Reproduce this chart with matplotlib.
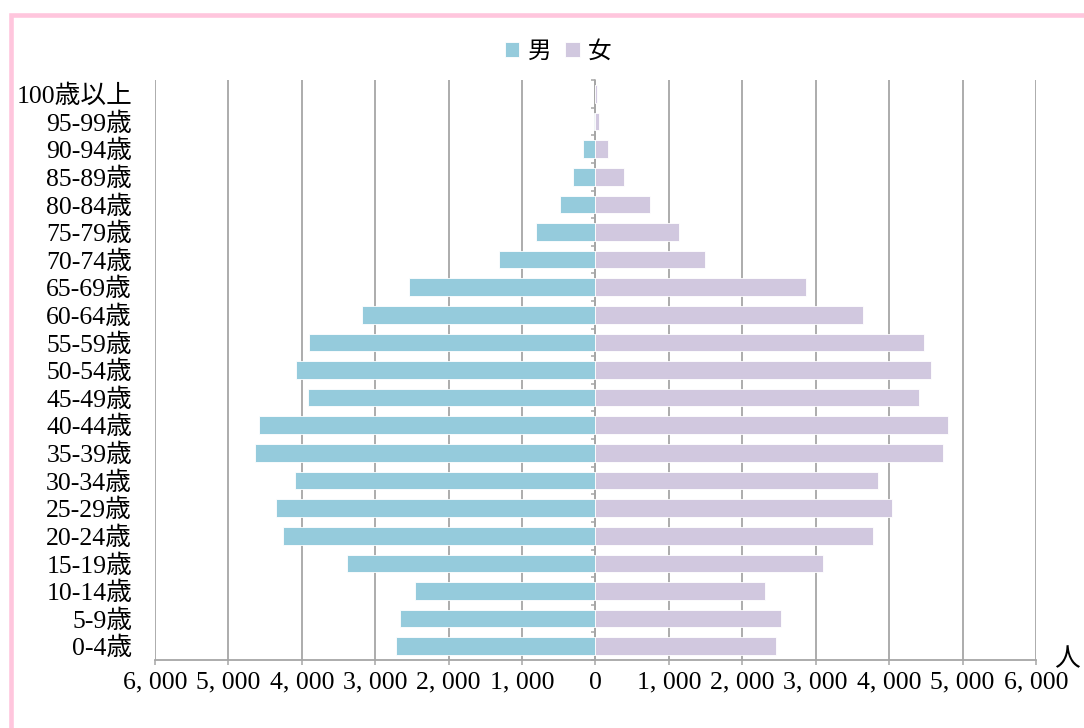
import numpy as np
import matplotlib.pyplot as plt
from matplotlib.patches import Rectangle

# 年齢階級（下から上へ）
age_groups = ['0-4歳', '5-9歳', '10-14歳', '15-19歳', '20-24歳', '25-29歳', '30-34歳',
              '35-39歳', '40-44歳', '45-49歳', '50-54歳', '55-59歳', '60-64歳', '65-69歳',
              '70-74歳', '75-79歳', '80-84歳', '85-89歳', '90-94歳', '95-99歳', '100歳以上']
male = [2715, 2661, 2452, 3379, 4251, 4354, 4091, 4632, 4578, 3919, 4074, 3896,
        3183, 2538, 1316, 812, 481, 309, 165, 27, 3]
female = [2453, 2521, 2313, 3098, 3778, 4033, 3846, 4731, 4803, 4404, 4576, 4472,
          3637, 2871, 1492, 1143, 739, 395, 167, 50, 25]
x_ticks = list(range(-6000, 6001, 1000))

male_color = '#95CBDC'
female_color = '#D1C8DF'
grid_color = '#A6A6A6'
fonts = ['Liberation Serif', 'Noto Sans CJK JP']
plt.rcParams['font.family'] = fonts

fig = plt.figure(figsize=(10.84, 7.28), dpi=100)
ax = fig.add_axes([0.143, 0.0934, 0.8127, 0.7966])

y = np.arange(len(age_groups))
b_m = ax.barh(y, -np.array(male), height=0.64, color=male_color,
              edgecolor='white', linewidth=0.6, label='男', zorder=3)
b_f = ax.barh(y, female, height=0.64, color=female_color,
              edgecolor='white', linewidth=0.6, label='女', zorder=3)

ax.set_xlim(-6000, 6000)
ax.set_ylim(-0.5, len(age_groups) - 0.5)
ax.set_xticks(x_ticks)
ax.set_xticklabels(['{:,}'.format(abs(v)).replace(',', ', ') for v in x_ticks])
ax.set_yticks(y)
ax.set_yticklabels(age_groups)
ax.tick_params(axis='y', length=0, pad=16.5, labelsize=18.5)
ax.tick_params(axis='x', length=3.6, width=1.1, color=grid_color, pad=5, labelsize=18.5)
ax.grid(axis='x', color=grid_color, linewidth=1.3, zorder=1)
ax.set_axisbelow(True)
for s in ['top', 'right', 'left']:
    ax.spines[s].set_visible(False)
ax.spines['bottom'].set_color(grid_color)
ax.spines['bottom'].set_linewidth(1.3)

# 中央の軸（0の位置）と区切りの目盛り
sec = ax.secondary_yaxis(0, transform=ax.transData)
sec.set_yticks(np.arange(-0.5, len(age_groups), 1))
sec.set_yticklabels([])
sec.tick_params(axis='y', length=3, width=1.1, color=grid_color, direction='out')
sec.spines['left'].set_color(grid_color)
sec.spines['left'].set_linewidth(1.1)

ax.text(1.035, 0.0, '人', transform=ax.transAxes, ha='center', va='center', fontsize=18.5)

fig.legend(handles=[b_m, b_f], loc='center', bbox_to_anchor=(0.515, 0.9286), ncol=2,
           frameon=False, fontsize=17, handlelength=0.6, handleheight=0.6,
           handletextpad=0.35, columnspacing=0.6)

# ピンクの枠線
fig.add_artist(Rectangle((0.0099, -0.1), 1.1, 1.0794, transform=fig.transFigure,
                         fill=False, edgecolor='#FFC6DD', linewidth=3.3))

fig.savefig('out.png', dpi=100)
